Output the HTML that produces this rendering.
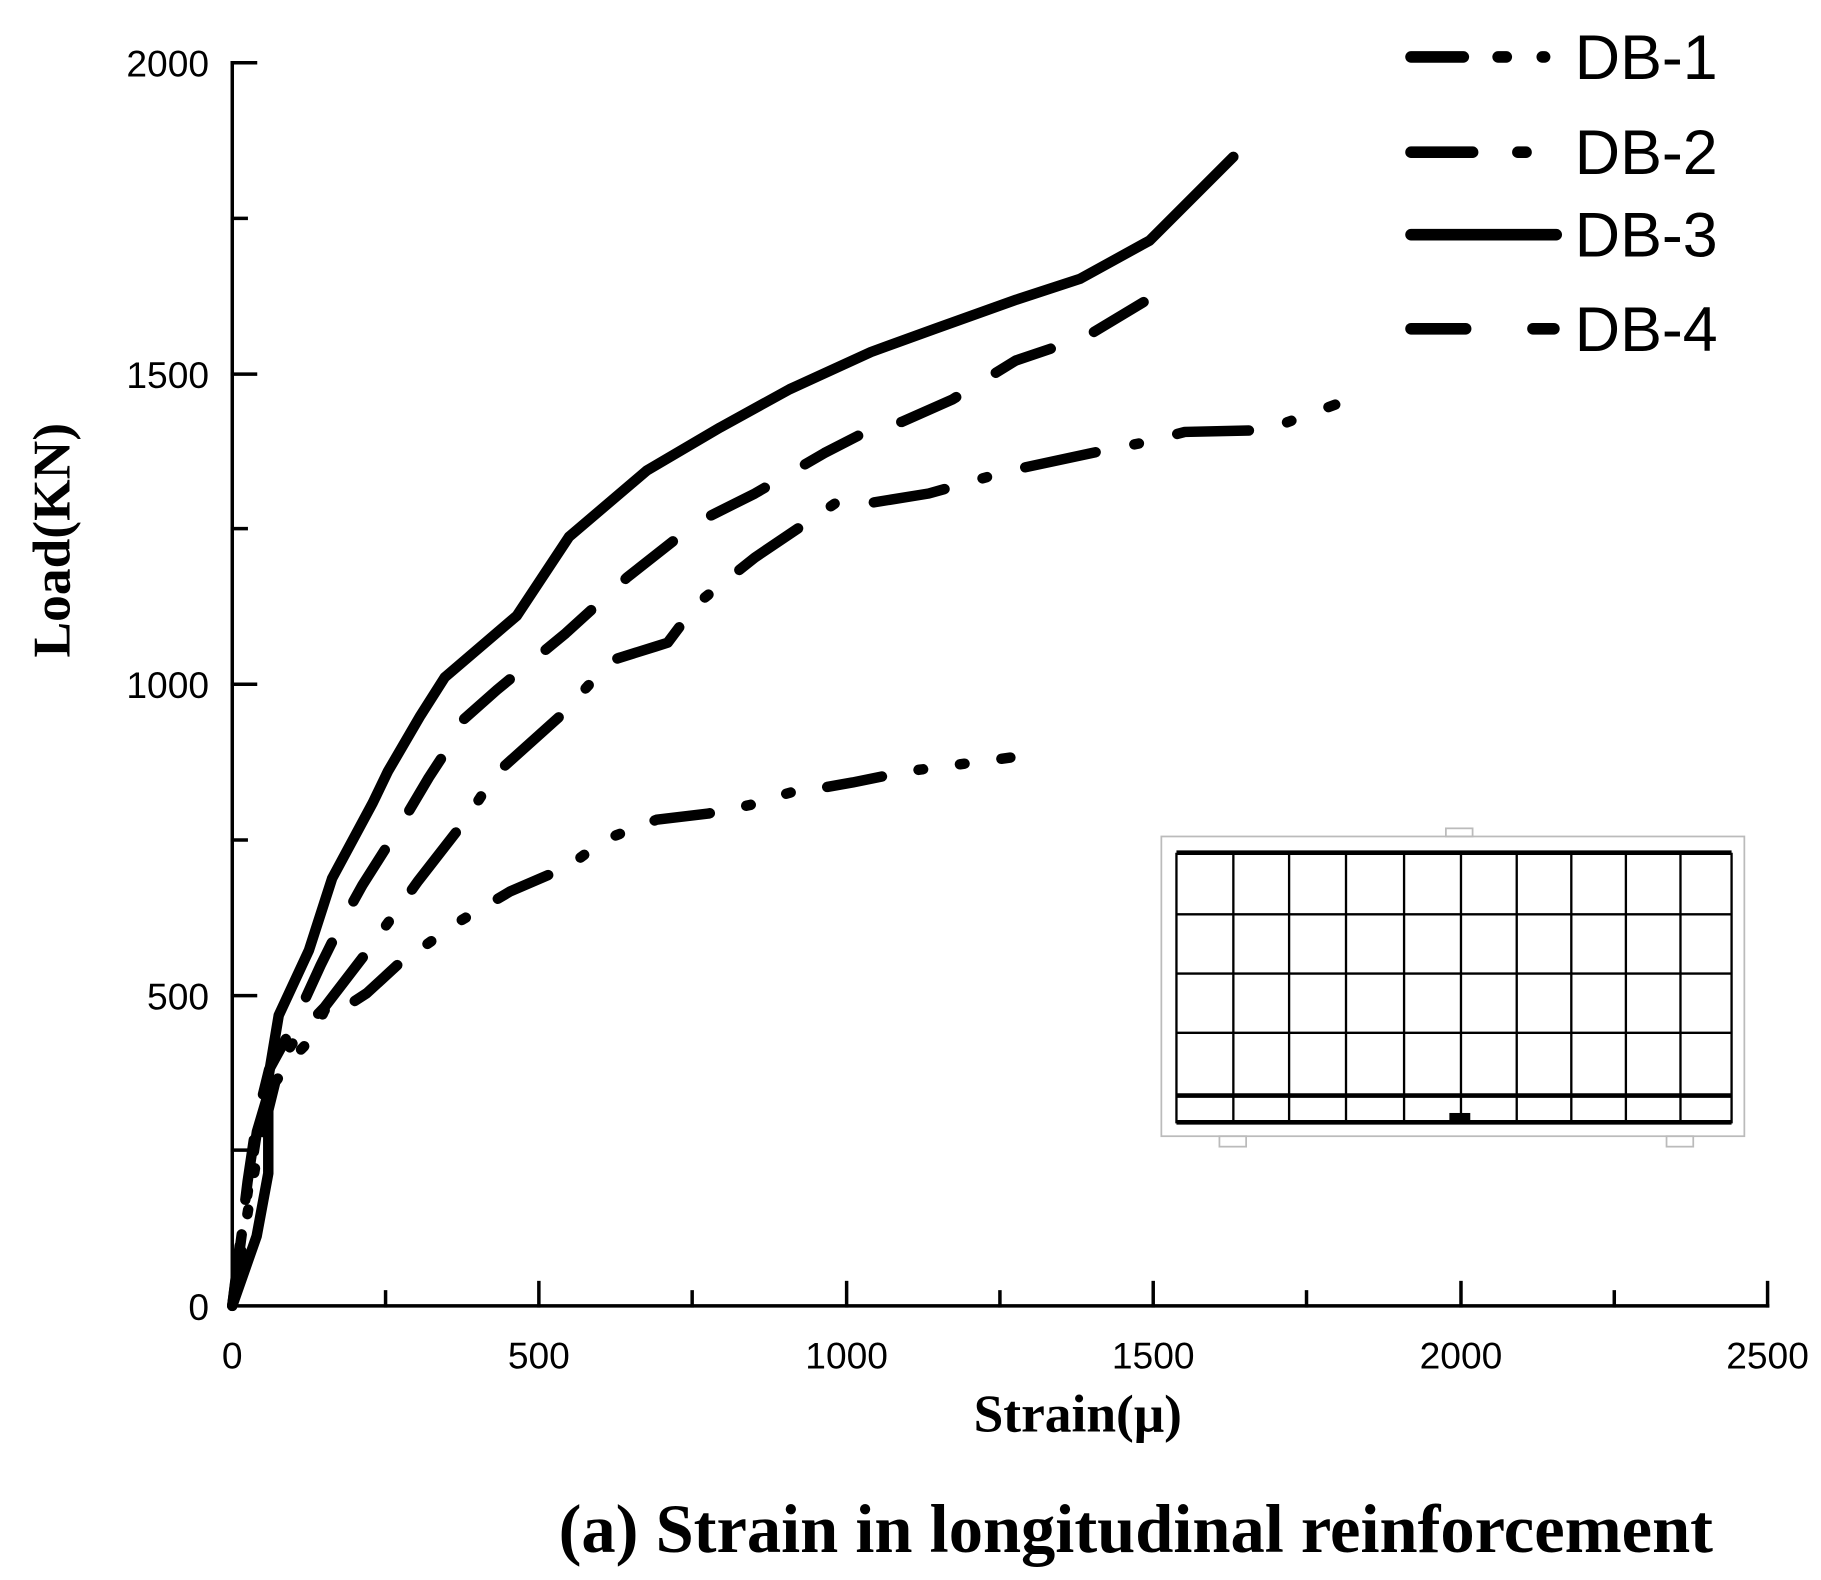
<!DOCTYPE html>
<html><head><meta charset="utf-8"><style>
html,body{margin:0;padding:0;background:#fff;}
svg{display:block;}
</style></head><body>
<svg id="s" width="1821" height="1580" viewBox="0 0 1568 1360" preserveAspectRatio="none" xmlns="http://www.w3.org/2000/svg">
<rect width="1568" height="1360" fill="#fff"/>
<g stroke="#000" stroke-width="3" fill="none" stroke-linecap="square">
<line x1="200" y1="54" x2="200" y2="1124"/>
<line x1="200" y1="1124" x2="1522" y2="1124"/>
<line x1="200" y1="54" x2="220" y2="54"/><line x1="200" y1="188" x2="212" y2="188"/>
<line x1="200" y1="322" x2="220" y2="322"/><line x1="200" y1="455" x2="212" y2="455"/>
<line x1="200" y1="589" x2="220" y2="589"/><line x1="200" y1="723" x2="212" y2="723"/>
<line x1="200" y1="857" x2="220" y2="857"/><line x1="200" y1="990" x2="212" y2="990"/>
<line x1="332" y1="1124" x2="332" y2="1112"/><line x1="464" y1="1124" x2="464" y2="1104"/>
<line x1="596" y1="1124" x2="596" y2="1112"/><line x1="729" y1="1124" x2="729" y2="1104"/>
<line x1="861" y1="1124" x2="861" y2="1112"/><line x1="993" y1="1124" x2="993" y2="1104"/>
<line x1="1125" y1="1124" x2="1125" y2="1112"/><line x1="1258" y1="1124" x2="1258" y2="1104"/>
<line x1="1390" y1="1124" x2="1390" y2="1112"/><line x1="1522" y1="1124" x2="1522" y2="1104"/>
</g>
<g font-family="Liberation Sans, sans-serif" font-size="32" fill="#000" text-anchor="end">
<text x="180" y="66">2000</text><text x="180" y="334">1500</text><text x="180" y="601">1000</text>
<text x="180" y="869">500</text><text x="180" y="1136">0</text>
</g>
<g font-family="Liberation Sans, sans-serif" font-size="32" fill="#000" text-anchor="middle">
<text x="200" y="1178">0</text><text x="464" y="1178">500</text><text x="729" y="1178">1000</text>
<text x="993" y="1178">1500</text><text x="1258" y="1178">2000</text><text x="1522" y="1178">2500</text>
</g>
<text x="928" y="1232" font-family="Liberation Serif, serif" font-weight="bold" font-size="46" text-anchor="middle">Strain(μ)</text>
<text transform="translate(60,465) rotate(-90)" font-family="Liberation Serif, serif" font-weight="bold" font-size="46" text-anchor="middle">Load(KN)</text>
<text x="978" y="1336" font-family="Liberation Serif, serif" font-weight="bold" font-size="59" text-anchor="middle">(a) Strain in longitudinal reinforcement</text>

<g stroke="#000" stroke-width="10" stroke-linecap="round" fill="none">
<line x1="1215" y1="49" x2="1260" y2="49"/><line x1="1290" y1="49" x2="1297" y2="49"/><line x1="1328" y1="49" x2="1330" y2="49"/>
<line x1="1215" y1="131" x2="1268" y2="131"/><line x1="1307" y1="131" x2="1314" y2="131"/>
<line x1="1215" y1="202" x2="1340" y2="202"/>
<line x1="1215" y1="283" x2="1262" y2="283"/><line x1="1320" y1="283" x2="1338" y2="283"/>
</g>
<g font-family="Liberation Sans, sans-serif" font-size="54" fill="#000">
<text x="1356" y="68">DB-1</text><text x="1356" y="150">DB-2</text><text x="1356" y="221">DB-3</text><text x="1356" y="302">DB-4</text>
</g>

<g fill="none">
<rect x="1000" y="720" width="502" height="258" stroke="#bbb" stroke-width="1.5"/>
<rect x="1245" y="713" width="23" height="7" stroke="#bbb" stroke-width="1.5"/>
<rect x="1050" y="978" width="23" height="9" stroke="#bbb" stroke-width="1.5"/>
<rect x="1435" y="978" width="23" height="9" stroke="#bbb" stroke-width="1.5"/>
<g stroke="#000" stroke-width="2">
<line x1="1013" y1="734" x2="1013" y2="967"/><line x1="1491" y1="734" x2="1491" y2="967"/>
<line x1="1062" y1="734" x2="1062" y2="967"/><line x1="1110" y1="734" x2="1110" y2="967"/>
<line x1="1159" y1="734" x2="1159" y2="967"/><line x1="1209" y1="734" x2="1209" y2="967"/>
<line x1="1258" y1="734" x2="1258" y2="967"/><line x1="1306" y1="734" x2="1306" y2="967"/>
<line x1="1353" y1="734" x2="1353" y2="967"/><line x1="1400" y1="734" x2="1400" y2="967"/>
<line x1="1447" y1="734" x2="1447" y2="967"/>
<line x1="1013" y1="787" x2="1491" y2="787"/><line x1="1013" y1="838" x2="1491" y2="838"/>
<line x1="1013" y1="889" x2="1491" y2="889"/>
</g>
<g stroke="#000" stroke-width="4">
<line x1="1013" y1="734" x2="1491" y2="734"/><line x1="1013" y1="943" x2="1491" y2="943"/>
<line x1="1013" y1="966" x2="1491" y2="966"/>
</g>
</g>
<rect x="1248" y="958" width="18" height="8" fill="#000"/>

<g id="series" fill="none" stroke="#000" stroke-width="9" stroke-linecap="round" stroke-linejoin="round">
<polyline id="pS"/>
<polyline id="pA" stroke-dasharray="52 40"/>
<polyline id="pB" stroke-dasharray="62 34 4 34"/>
<polyline id="pC" stroke-dasharray="48 32 4 32 4 32"/>
</g>
</svg>
<script>
function X(s){return 200+s*0.5288} function Y(l){return 1124-l*0.535}
function pts(a){return a.map(function(p){return X(p[0]).toFixed(1)+","+Y(p[1]).toFixed(1)}).join(" ")}
document.getElementById("pS").setAttribute("points","200,1124 221,1064 231,1010 231,928 240,874 266,818 286,756 321,691 334,664 362,616 383,583 445,530 490,462 557,405 620,368 680,335 750,303 805,283 875,258 930,240 990,207 1062,135");
document.getElementById("pA").setAttribute("points",pts([[0,0],[10,80],[25,200],[40,300],[60,380],[97,447],[144,548],[180,620],[212,677],[275,775],[320,850],[353,900],[375,942],[431,991],[543,1082],[643,1172],[756,1260],[851,1307],[964,1372],[1063,1422],[1090,1422],[1172,1458],[1276,1521],[1390,1559],[1484,1615]]));
document.getElementById("pB").setAttribute("points",pts([[0,0],[20,150],[40,280],[70,380],[110,440],[150,480],[219,569],[303,684],[366,764],[378,778],[428,855],[534,949],[603,1023],[622,1040],[690,1061],[709,1067],[756,1129],[851,1204],[983,1292],[1040,1292],[1134,1307],[1267,1344],[1399,1372],[1494,1391],[1551,1406],[1683,1409],[1796,1450]]));
document.getElementById("pC").setAttribute("points",pts([[0,0],[20,120],[40,240],[70,360],[100,400],[128,429],[150,475],[166,496],[197,489],[219,503],[284,562],[303,572],[369,618],[453,667],[519,695],[541,702],[606,750],[625,757],[691,782],[775,792],[844,806],[863,813],[928,831],[947,831],[1010,842],[1100,860],[1267,882]]));
</script>
</body></html>
